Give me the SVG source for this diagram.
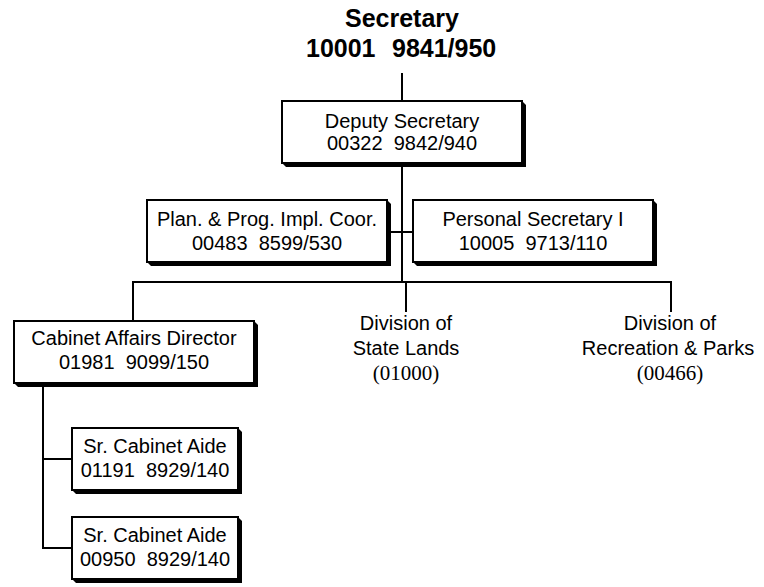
<svg xmlns="http://www.w3.org/2000/svg" xmlns:xlink="http://www.w3.org/1999/xlink" width="764" height="587" viewBox="0 0 764 587">
  <style>
    text { font-family: "Liberation Sans", Arial, sans-serif; font-size: 20px; fill: #000; text-anchor: middle; white-space: pre; }
    .title { font-size: 25px; font-weight: bold; }
    .left { text-anchor: start; }
    .code { font-family: "Liberation Serif", "Times New Roman", serif; font-size: 21px; }
    .link { stroke: #000; stroke-width: 2; fill: none; }
    .box { fill: #fff; stroke: #000; stroke-width: 2; }
    .shadow { fill: #000; }
  </style>
  <defs>
    <!-- position box with a bevelled drop shadow, 240 x 62 -->
    <g id="box-wide">
      <polygon class="shadow" points="240,0 244,4 244,66 4,66 0,62"/>
      <rect class="box" x="0" y="0" width="240" height="62"/>
    </g>
    <!-- narrow position box, 166 x 62 -->
    <g id="box-narrow">
      <polygon class="shadow" points="166,0 170,4 170,66 4,66 0,62"/>
      <rect class="box" x="0" y="0" width="166" height="62"/>
    </g>
  </defs>

  <!-- reporting lines -->
  <g id="connectors">
    <line class="link" x1="402" y1="73" x2="402" y2="101"/>
    <line class="link" x1="402" y1="163" x2="402" y2="283"/>
    <line class="link" x1="387" y1="232" x2="413" y2="232"/>
    <line class="link" x1="132" y1="282" x2="672" y2="282"/>
    <line class="link" x1="133" y1="282" x2="133" y2="321"/>
    <line class="link" x1="406" y1="282" x2="406" y2="312"/>
    <line class="link" x1="671" y1="282" x2="671" y2="312"/>
    <line class="link" x1="43" y1="383" x2="43" y2="549"/>
    <line class="link" x1="42" y1="459" x2="72" y2="459"/>
    <line class="link" x1="42" y1="548" x2="72" y2="548"/>
  </g>

  <g id="secretary">
    <text class="title" x="402" y="27">Secretary</text>
    <text class="title left" x="306" y="57">10001</text>
    <text class="title left" x="392" y="57">9841/950</text>
  </g>

  <g id="deputy-secretary">
    <use xlink:href="#box-wide" x="282" y="101"/>
    <text x="402" y="128">Deputy Secretary</text>
    <text x="402" y="150">00322  9842/940</text>
  </g>

  <g id="plan-prog-coor">
    <use xlink:href="#box-wide" x="147" y="200"/>
    <text x="267" y="226">Plan. &amp; Prog. Impl. Coor.</text>
    <text x="267" y="250">00483  8599/530</text>
  </g>

  <g id="personal-secretary">
    <use xlink:href="#box-wide" x="413" y="200"/>
    <text x="533" y="226">Personal Secretary I</text>
    <text x="533" y="250">10005  9713/110</text>
  </g>

  <g id="cabinet-affairs-director">
    <use xlink:href="#box-wide" x="14" y="321"/>
    <text x="134" y="345">Cabinet Affairs Director</text>
    <text x="134" y="369">01981  9099/150</text>
  </g>

  <g id="state-lands">
    <text x="406" y="330">Division of</text>
    <text x="406" y="355">State Lands</text>
    <text class="code" x="406" y="380">(01000)</text>
  </g>

  <g id="recreation-parks">
    <text x="670" y="330">Division of</text>
    <text x="668" y="355">Recreation &amp; Parks</text>
    <text class="code" x="670" y="380">(00466)</text>
  </g>

  <g id="cabinet-aide-1">
    <use xlink:href="#box-narrow" x="72" y="428"/>
    <text x="155" y="453">Sr. Cabinet Aide</text>
    <text x="155" y="477">01191  8929/140</text>
  </g>

  <g id="cabinet-aide-2">
    <use xlink:href="#box-narrow" x="72" y="517"/>
    <text x="155" y="542">Sr. Cabinet Aide</text>
    <text x="155" y="566">00950  8929/140</text>
  </g>
</svg>
